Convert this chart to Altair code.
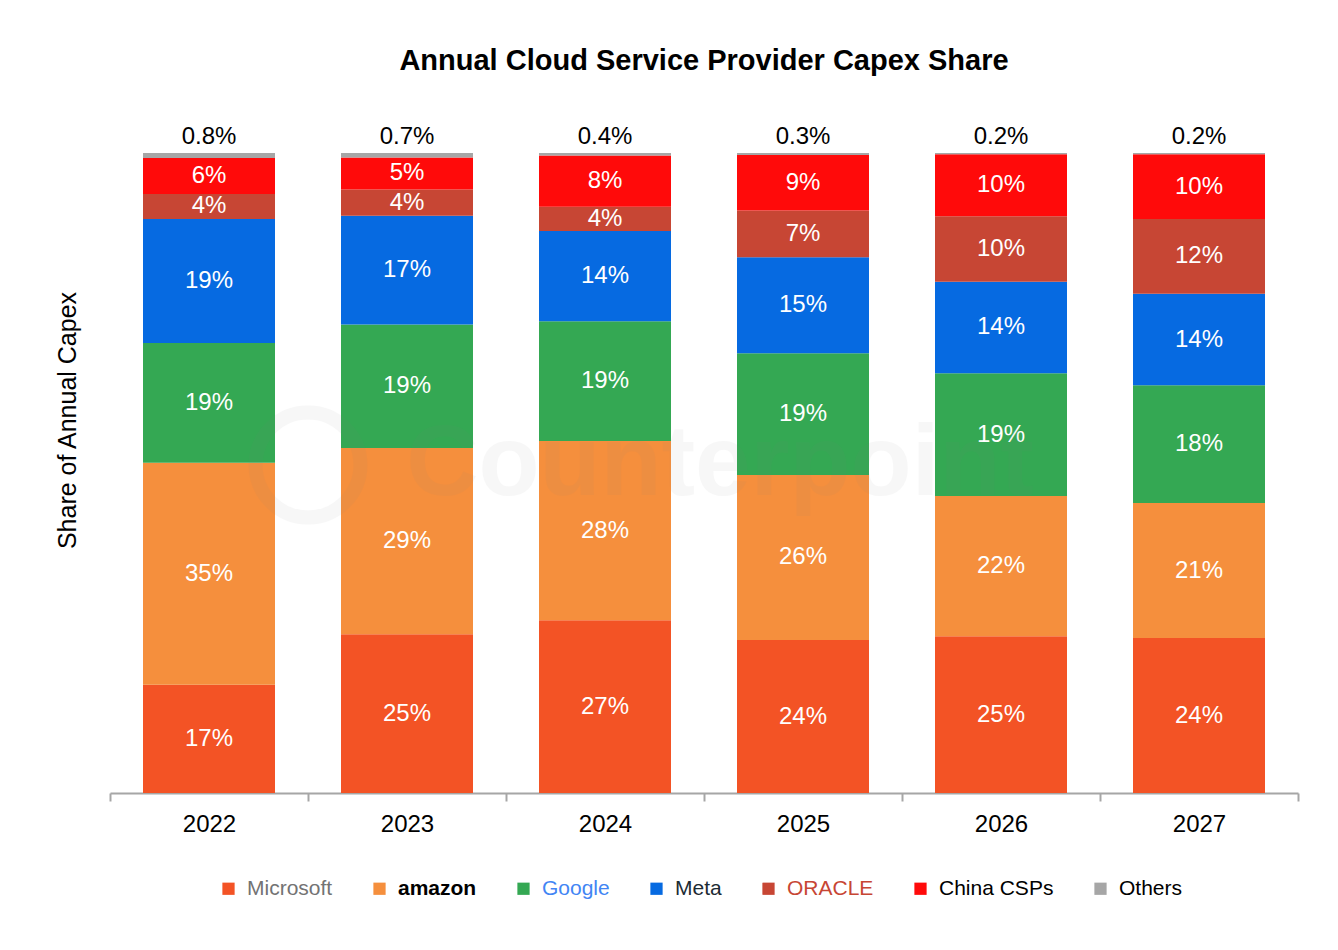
import altair as alt
import pandas as pd

YEARS = ["2022", "2023", "2024", "2025", "2026", "2027"]
SERIES = ["Microsoft", "amazon", "Google", "Meta", "ORACLE", "China CSPs", "Others"]
COLORS = ["#F35325", "#F58F3D", "#34A853", "#066AE1", "#C74634", "#FF0A0A", "#A6A6A6"]

# share of annual capex (%) per provider
MICROSOFT = [16.9, 24.8, 27.0, 23.9, 24.5, 24.2]
AMAZON = [34.7, 29.1, 28.0, 25.8, 21.9, 21.1]
GOOGLE = [18.7, 19.3, 18.7, 19.0, 19.2, 18.4]
META = [19.4, 17.0, 14.1, 15.0, 14.3, 14.3]
ORACLE = [3.9, 4.1, 3.8, 7.3, 10.2, 11.7]
CHINA = [5.6, 5.0, 8.0, 8.7, 9.7, 10.1]
OTHERS = [0.8, 0.7, 0.4, 0.3, 0.2, 0.2]

rows = []
for idx, (name, vals) in enumerate(
    zip(SERIES, [MICROSOFT, AMAZON, GOOGLE, META, ORACLE, CHINA, OTHERS])
):
    for year, v in zip(YEARS, vals):
        rows.append({"year": year, "series": name, "idx": idx, "value": v})
df = pd.DataFrame(rows)

FONT = "Liberation Sans"

base = (
    alt.Chart(df)
    .transform_stack(
        stack="value",
        as_=["y0", "y1"],
        groupby=["year"],
        sort=[alt.SortField("idx", order="ascending")],
    )
    .transform_calculate(
        mid="(datum.y0 + datum.y1) / 2",
        label="datum.series == 'Others' ? format(datum.value, '.1f') + '%' : format(datum.value, '.0f') + '%'",
    )
)

x_enc = alt.X(
    "year:O",
    title=None,
    scale=alt.Scale(paddingInner=0, paddingOuter=0),
    axis=alt.Axis(
        labelAngle=0,
        labelFontSize=24,
        labelColor="#000000",
        labelPadding=11,
        domainColor="#A6A6A6",
        domainWidth=2,
        tickColor="#A6A6A6",
        tickWidth=2,
        tickSize=8,
        tickBand="extent",
        grid=False,
    ),
)

y_scale = alt.Scale(domain=[0, 100], nice=False)

bars = base.mark_bar(width=alt.RelativeBandSize(2 / 3)).encode(
    x=x_enc,
    y=alt.Y(
        "y0:Q",
        scale=y_scale,
        title="Share of Annual Capex",
        axis=alt.Axis(
            labels=False,
            ticks=False,
            domain=False,
            grid=False,
            titleFontSize=25,
            titleFontWeight="normal",
            titleColor="#000000",
            titlePadding=30,
            titleY=267,
        ),
    ),
    y2="y1:Q",
    color=alt.Color(
        "series:N",
        scale=alt.Scale(domain=SERIES, range=COLORS),
        legend=alt.Legend(
            title=None,
            orient="none",
            direction="horizontal",
            legendX=108,
            legendY=725,
            symbolType="square",
            symbolSize=150,
            symbolStrokeWidth=0,
            symbolOpacity=1,
            labelFontSize=21,
            labelOffset=8,
            columnPadding=36,
            padding=0,
            labelColor=alt.ExprRef(
                "datum.label == 'Microsoft' ? '#737373' : datum.label == 'Google' ? '#4285F4' : "
                "datum.label == 'Meta' ? '#1C2B33' : datum.label == 'ORACLE' ? '#C74634' : '#000000'"
            ),
            labelFontWeight=alt.ExprRef("datum.label == 'amazon' ? 'bold' : 'normal'"),
        ),
    ),
    order=alt.Order("idx:Q", sort="ascending"),
)

inner = base.transform_filter("datum.series != 'Others'").mark_text(
    fontSize=24, color="white", baseline="middle"
).encode(
    x="year:O",
    y=alt.Y("mid:Q", scale=y_scale),
    text="label:N",
)

top = base.transform_filter("datum.series == 'Others'").mark_text(
    fontSize=24, color="#000000", baseline="alphabetic", dy=-9
).encode(
    x="year:O",
    y=alt.Y("y1:Q", scale=y_scale),
    text="label:N",
)

watermark = (
    alt.Chart(pd.DataFrame({"t": ["Counterpoint"]}))
    .mark_text(fontSize=100, fontWeight="bold", color="#808080", opacity=0.06, align="center", baseline="middle")
    .encode(x=alt.value(610), y=alt.value(312), text="t:N")
)
ring = (
    alt.Chart(pd.DataFrame({"t": ["o"]}))
    .mark_point(shape="circle", size=11000, strokeWidth=14, color="#808080", opacity=0.06)
    .encode(x=alt.value(198), y=alt.value(312))
)

chart = (
    alt.layer(bars, inner, top, ring, watermark)
    .properties(
        width=1188,
        height=640,
        autosize=alt.AutoSizeParams(type="none"),
        padding={"left": 102, "top": 145, "right": 20, "bottom": 120},
        title=alt.Title(
            "Annual Cloud Service Provider Capex Share",
            fontSize=29,
            fontWeight="bold",
            color="#000000",
            frame="group",
            anchor="middle",
            baseline="alphabetic",
            offset=26,
        ),
    )
    .configure(font=FONT)
    .configure_view(stroke=None)
)

chart.save("out.html", embed_options={"renderer": "svg", "actions": False})
